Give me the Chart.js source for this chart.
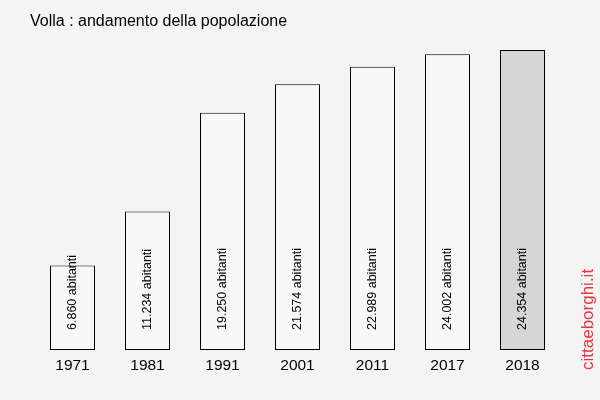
<!DOCTYPE html>
<html>
<head>
<meta charset="utf-8">
<script src="https://cdn.jsdelivr.net/npm/chart.js@4/dist/chart.umd.min.js"></script>
<style>
  html, body { margin: 0; padding: 0; background: #f4f4f4; }
  #wrap { width: 600px; height: 400px; }
</style>
</head>
<body>
<div id="wrap"><canvas id="popChart" width="600" height="400"></canvas></div>
<script>
// Volla - population trend
const years = ['1971', '1981', '1991', '2001', '2011', '2017', '2018'];
const population = [6860, 11234, 19250, 21574, 22989, 24002, 24354];
const barLabels = ['6.860 abitanti', '11.234 abitanti', '19.250 abitanti', '21.574 abitanti',
  '22.989 abitanti', '24.002 abitanti', '24.354 abitanti'];
const chartTitle = 'Volla : andamento della popolazione';
const watermark = 'cittaeborghi.it';

const FONT = '"Liberation Sans", Arial, sans-serif';

// draws title, the rotated value labels and the watermark
const decorPlugin = {
  id: 'decor',
  beforeDraw(chart) {
    const ctx = chart.ctx;
    ctx.save();
    ctx.fillStyle = '#f4f4f4';
    ctx.fillRect(0, 0, chart.width, chart.height);
    ctx.restore();
  },
  afterDatasetsDraw(chart) {
    const ctx = chart.ctx;
    const meta = chart.getDatasetMeta(0);
    ctx.save();
    ctx.fillStyle = '#000';
    ctx.font = '12.5px ' + FONT;
    ctx.textAlign = 'left';
    ctx.textBaseline = 'middle';
    meta.data.forEach((bar, i) => {
      ctx.save();
      ctx.translate(bar.x, chart.chartArea.bottom - 20);
      ctx.rotate(-Math.PI / 2);
      ctx.fillText(barLabels[i], 0, 0);
      ctx.restore();
    });

    // title
    ctx.font = '16px ' + FONT;
    ctx.textBaseline = 'middle';
    ctx.fillText(chartTitle, 30, 22);

    // watermark
    ctx.fillStyle = '#e3343f';
    ctx.font = '17px ' + FONT;
    ctx.translate(588, 370);
    ctx.rotate(-Math.PI / 2);
    ctx.fillText(watermark, 0, 0);
    ctx.restore();
  }
};

const ctx = document.getElementById('popChart').getContext('2d');
new Chart(ctx, {
  type: 'bar',
  data: {
    labels: years,
    datasets: [{
      data: population,
      backgroundColor: population.map((v, i) => i === population.length - 1 ? '#d6d6d6' : '#f8f8f8'),
      borderColor: '#000',
      borderWidth: 1,
      borderSkipped: false,
      barPercentage: 0.6,
      categoryPercentage: 1.0
    }]
  },
  options: {
    responsive: false,
    animation: false,
    layout: { padding: { left: 35, right: 40, top: 50, bottom: 0 } },
    plugins: {
      legend: { display: false },
      tooltip: { enabled: false }
    },
    scales: {
      x: {
        grid: { display: false, drawTicks: false },
        border: { display: false },
        ticks: { color: '#000', font: { family: FONT, size: 15.5 }, padding: 6 },
        afterFit(scale) { scale.height = 50; }
      },
      y: {
        display: false,
        min: 0,
        max: 24354
      }
    }
  },
  plugins: [decorPlugin]
});
</script>
</body>
</html>
